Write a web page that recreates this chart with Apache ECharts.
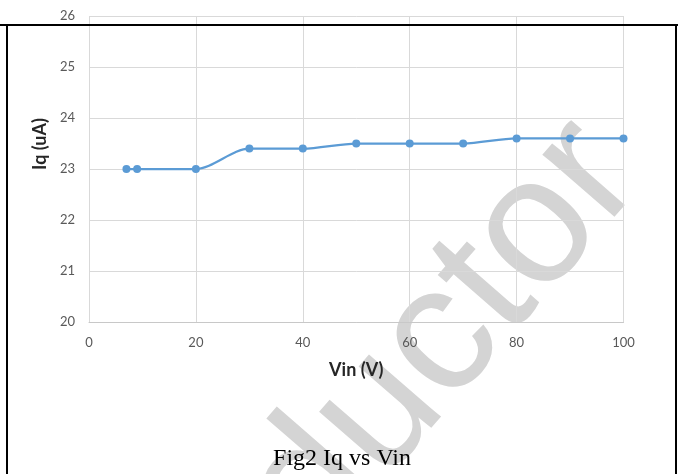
<!DOCTYPE html>
<html>
<head>
<meta charset="utf-8">
<script src="https://cdn.jsdelivr.net/npm/echarts@6/dist/echarts.min.js"></script>
<style>
html,body{margin:0;padding:0;background:#fff;}
#chart{width:680px;height:474px;}
</style>
</head>
<body>
<div id="chart"></div>
<script>
// Data
var vin = [7, 9, 20, 30, 40, 50, 60, 70, 80, 90, 100];
var iq = [23.0, 23.0, 23.0, 23.4, 23.4, 23.5, 23.5, 23.5, 23.6, 23.6, 23.6];
var xTitle = 'Vin (V)';
var yTitle = 'Iq (uA)';
var caption = 'Fig2 Iq vs Vin';
var watermark = 'ductor';

var points = vin.map(function (v, i) { return [v, iq[i]]; });

var chart = echarts.init(document.getElementById('chart'), null, {renderer: 'canvas'});
var labelFont = 'Lato';
chart.setOption({
  animation: false,
  backgroundColor: '#ffffff',
  grid: {left: 89, right: 56.5, top: 16, bottom: 152, containLabel: false},
  xAxis: {
    type: 'value', min: 0, max: 100, interval: 20,
    name: xTitle, nameLocation: 'middle', nameGap: 39,
    nameTextStyle: {fontFamily: labelFont, fontWeight: 'bold', fontSize: 18, color: '#262626'},
    axisLine: {show: true, lineStyle: {color: '#c8c8c8', width: 1}},
    axisTick: {show: false},
    axisLabel: {fontFamily: labelFont, fontSize: 13, color: '#595959', margin: 14},
    splitLine: {show: true, lineStyle: {color: '#d9d9d9', width: 1}}
  },
  yAxis: {
    type: 'value', min: 20, max: 26, interval: 1,
    axisLine: {show: false},
    axisTick: {show: false},
    axisLabel: {fontFamily: labelFont, fontSize: 13, color: '#595959', margin: 14},
    splitLine: {show: true, lineStyle: {color: '#d9d9d9', width: 1}}
  },
  series: [{
    type: 'line',
    data: points,
    smooth: 0.3,
    symbol: 'circle',
    symbolSize: 8,
    lineStyle: {color: '#5B9BD5', width: 2.25},
    itemStyle: {color: '#5B9BD5'},
    z: 5
  }],
  graphic: [
    {
      type: 'text', z: -1, silent: true,
      x: 280, y: 526, rotation: 49 * Math.PI / 180,
      style: {text: watermark, font: '180px "Liberation Sans"', fill: '#d4d4d4',
              textAlign: 'left', textVerticalAlign: 'middle'}
    },
    {
      type: 'text', z: 10,
      x: 40, y: 144, rotation: Math.PI / 2,
      style: {text: yTitle, font: 'bold 18px Lato', fill: '#262626',
              textAlign: 'center', textVerticalAlign: 'middle'}
    },
    {
      type: 'text', z: 10,
      x: 342, y: 471,
      style: {text: caption, font: '24px "Liberation Serif"', fill: '#000000',
              textAlign: 'center', textVerticalAlign: 'bottom'}
    },
    {type: 'line', z: 20, shape: {x1: 0, y1: 25, x2: 678, y2: 25}, style: {stroke: '#000', lineWidth: 2}},
    {type: 'line', z: 20, shape: {x1: 7, y1: 25, x2: 7, y2: 474}, style: {stroke: '#000', lineWidth: 2}},
    {type: 'line', z: 20, shape: {x1: 676, y1: 25, x2: 676, y2: 474}, style: {stroke: '#000', lineWidth: 2}}
  ]
});
</script>
</body>
</html>
